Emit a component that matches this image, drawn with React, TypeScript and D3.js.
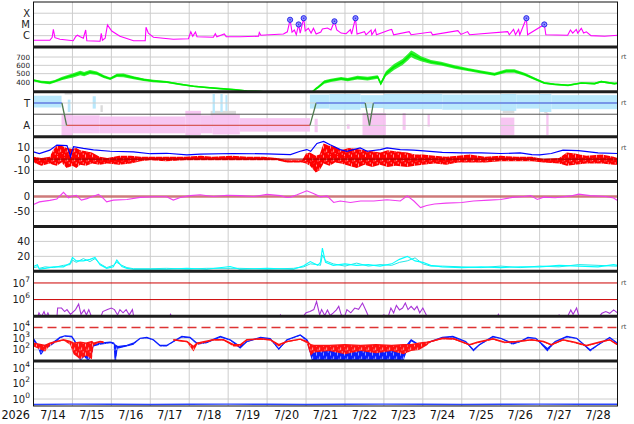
import React from 'react';
import * as d3 from 'd3';

// ---- layout ----
const W = 634;
const H = 424;
const L = 33.5;
const R = 617.5;
const TOP = 2;
const BOT = 406;
const PH = (BOT - TOP) / 9;
const START = new Date(2026, 6, 14);
const at = (d: number) => d3.timeMinute.offset(START, Math.round(d * 1440));

const dayLabels = ['7/14', '7/15', '7/16', '7/17', '7/18', '7/19', '7/20', '7/21', '7/22', '7/23', '7/24', '7/25', '7/26', '7/27', '7/28'];
const yearLabel = '2026';

// ---- data (day offset from 7/14 00:00) ----
const xrayFlux: [number, number][] = [
  [0, 3.9e-7], [0.42, 3.9e-7], [0.48, 7.2e-7], [0.51, 3.6e-6], [0.55, 6.6e-7], [0.68, 4.8e-7], [1.02, 3.5e-7],
  [1.09, 8.9e-7], [1.13, 1.1e-6], [1.2, 8.1e-7], [1.28, 5.9e-7], [1.34, 3.2e-6], [1.37, 3.5e-7], [1.71, 3.2e-7],
  [1.74, 1.6e-6], [1.77, 3.9e-7], [1.84, 5.9e-7], [1.9, 8.9e-6], [2.01, 2.6e-6], [2.22, 8.9e-7], [2.57, 3.5e-7],
  [2.87, 3.5e-7], [2.89, 5.6e-6], [2.95, 1.7e-6], [3.08, 7.2e-7], [3.59, 4.8e-7], [3.98, 5.3e-7], [4.04, 2.2e-6],
  [4.09, 8.9e-7], [4.16, 2.1e-6], [4.2, 8.1e-7], [4.62, 7.2e-7], [4.67, 1.5e-6], [4.71, 8.1e-7], [4.9, 1.4e-6],
  [4.95, 8.1e-7], [5.31, 8.1e-7], [5.78, 8.9e-7], [5.8, 1.9e-6], [5.84, 1.1e-6], [6.42, 1.4e-6], [6.52, 2.2e-6],
  [6.59, 2.6e-5], [6.64, 2.1e-6], [6.7, 3.2e-6], [6.75, 1.2e-6], [6.81, 1.0e-5], [6.85, 1.7e-6], [6.94, 3.6e-5],
  [6.98, 2.6e-6], [7.06, 4.5e-6], [7.13, 1.7e-6], [7.19, 4.5e-6], [7.26, 1.4e-6], [7.38, 2.1e-6], [7.42, 3.9e-6],
  [7.55, 4.8e-6], [7.64, 3.2e-6], [7.73, 1.9e-5], [7.79, 3.2e-6], [7.9, 1.7e-6], [8.03, 1.5e-6], [8.14, 3.5e-6],
  [8.17, 1.4e-6], [8.27, 3.6e-5], [8.31, 1.4e-6], [8.5, 2.3e-6], [8.54, 1.2e-6], [8.67, 3.2e-6], [8.69, 1.2e-6],
  [8.78, 3.6e-6], [8.81, 1.2e-6], [9.14, 3.2e-6], [9.2, 3.6e-6], [9.25, 1.2e-6], [9.65, 2.3e-6], [9.7, 1.2e-6],
  [10.21, 2.1e-6], [10.25, 1.2e-6], [10.9, 2.8e-6], [10.98, 1.3e-6], [11.15, 2.3e-6], [11.2, 1.2e-6], [12.18, 2.3e-6],
  [12.22, 1.2e-6], [12.33, 3.6e-6], [12.38, 1.2e-6], [12.46, 3.6e-6], [12.49, 1.2e-6], [12.66, 3.6e-5], [12.69, 1.2e-6],
  [13.12, 1.0e-5], [13.16, 1.2e-6], [13.72, 1.1e-6], [13.79, 3.2e-6], [13.85, 1.7e-6], [13.94, 3.6e-6], [13.98, 1.7e-6],
  [14.07, 4.5e-6], [14.13, 1.7e-6], [14.2, 2.2e-6], [14.32, 1.0e-6], [14.67, 9.0e-7], [15, 1.1e-6],
];
const flares: [number, number][] = [
  [6.59, 2.6e-5], [6.81, 1.0e-5], [6.94, 3.6e-5], [7.73, 1.9e-5], [8.27, 3.6e-5], [12.66, 3.6e-5], [13.12, 1.0e-5],
];

// [day, km/s, spread]
const windSpeed: [number, number, number][] = [
  [0, 420, 12], [0.2, 400, 15], [0.42, 390, 18], [0.55, 410, 15], [0.72, 440, 20], [0.9, 465, 22], [1.02, 480, 25],
  [1.2, 508, 28], [1.3, 495, 25], [1.45, 520, 25], [1.63, 505, 22], [1.8, 467, 18], [1.97, 440, 15], [2.14, 480, 20],
  [2.31, 480, 22], [2.57, 452, 18], [2.83, 428, 15], [3.08, 412, 14], [3.42, 400, 12], [3.77, 372, 10], [4.11, 348, 10],
  [4.45, 333, 8], [4.8, 320, 8], [5.14, 308, 8], [5.48, 292, 8], [5.83, 285, 8], [6.2, 270, 8], [6.6, 262, 8],
  [7.0, 260, 8], [7.15, 275, 10], [7.26, 320, 15], [7.3, 333, 15], [7.47, 400, 20], [7.64, 420, 20], [7.9, 440, 20],
  [8.07, 428, 20], [8.32, 452, 22], [8.58, 440, 22], [8.84, 460, 22], [8.92, 380, 20], [9.05, 500, 30], [9.26, 580, 35],
  [9.48, 640, 35], [9.62, 700, 40], [9.7, 740, 40], [9.78, 720, 40], [9.95, 680, 30], [10.21, 640, 25], [10.47, 620, 22],
  [10.82, 580, 20], [11.15, 549, 18], [11.5, 520, 18], [11.84, 492, 18], [12.14, 532, 20], [12.35, 532, 20],
  [12.61, 492, 18], [12.87, 440, 15], [13.12, 388, 12], [13.38, 372, 10], [13.73, 360, 10], [14.07, 388, 10],
  [14.41, 380, 10], [14.58, 404, 10], [14.92, 380, 10], [15, 385, 10],
];

// sector: 1 = toward (T), -1 = away (A)
const sector: [number, number][] = [
  [0, 1], [0.73, 1], [0.85, -1], [7.1, -1], [7.26, 1], [8.52, 1], [8.63, -1], [8.73, 1], [15, 1],
];
// phi scatter envelopes: [from, to, low, high]
const phiToward: [number, number, number, number][] = [
  [0, 0.72, 0.6, 1.65], [0.88, 0.95, 0.2, 1.3], [1.52, 1.6, 0.5, 1.6], [4.6, 4.66, 0.1, 1.8], [4.8, 4.86, 0.2, 1.8],
  [4.93, 4.98, 0.3, 1.7],
  [7.1, 7.6, 0.5, 1.75], [7.6, 8.4, 0.4, 1.8], [8.4, 9.0, 0.55, 1.7], [9.0, 10.5, 0.45, 1.8],
  [10.5, 12.0, 0.4, 1.75], [12.0, 12.4, 0.3, 1.8], [12.4, 13.0, 0.5, 1.75], [13.0, 13.3, 0.2, 1.8],
  [13.3, 15, 0.45, 1.7],
];
const phiAway: [number, number, number, number][] = [
  [0.72, 1.0, -2.0, -0.05], [1.0, 1.7, -1.7, -0.1], [1.7, 3.9, -1.7, -0.2], [3.9, 4.3, -1.85, 0.3],
  [4.3, 4.6, -1.7, -0.1], [4.6, 5.3, -1.8, 0.0], [5.3, 7.1, -1.55, -0.35], [7.22, 7.3, -1.6, -0.4],
  [8.05, 8.12, -1.3, -0.9], [8.45, 9.05, -1.85, 0.1], [9.48, 9.56, -1.4, 0.1], [10.12, 10.18, -1.1, 0.0],
  [12.0, 12.35, -1.85, -0.3], [13.17, 13.23, -1.85, 0.1],
];
const phiOther: [number, number, number, number][] = [
  [0.8, 1.0, 1.75, 2.0], [1.72, 1.78, 0.2, 0.8], [4.55, 5.2, -1.2, 0.3], [12.05, 12.35, 0.1, 1.2], [13.12, 13.2, 0.1, 0.6],
];

const bt: [number, number][] = [
  [0, 6.5], [0.15, 5], [0.42, 8], [0.6, 12.5], [0.86, 12], [0.92, 6], [0.95, 2], [0.98, 6], [1.03, 11], [1.28, 9.5],
  [1.54, 8.3], [1.97, 7], [2.57, 6.5], [3.0, 4.8], [3.42, 5.2], [3.94, 3.7], [4.28, 4.5], [5.13, 5], [6.0, 4.7],
  [6.6, 4], [6.85, 7], [7.02, 8.5], [7.12, 7], [7.28, 14], [7.45, 15.8], [7.62, 12.8], [7.88, 8.5], [8.05, 7],
  [8.39, 10], [8.57, 7], [8.91, 8.5], [9.08, 10], [9.42, 8.5], [9.76, 8], [9.94, 7.5], [10.5, 6], [11.0, 5.5],
  [11.5, 5.5], [12.0, 5], [12.5, 5.5], [12.8, 4], [13.0, 3.8], [13.3, 5], [13.6, 8], [14.0, 7.5], [14.5, 5.5], [15, 5],
];
// bz envelope: [day, high, low]
const bz: [number, number, number][] = [
  [0, 2, -3], [0.2, 1, -6], [0.42, 2, -4], [0.5, 8, -5], [0.6, 12, -6], [0.72, 12, -3], [0.85, 10, -8], [1.0, 9, -6],
  [1.1, 10, -8], [1.2, 8, -5], [1.35, 7, -6], [1.5, 6, -4], [1.7, 2, -5], [1.9, 1, -4], [2.2, 3, -5], [2.5, 3, -4],
  [2.75, 2, -2], [3.0, 2, -1], [3.4, 2, -2], [3.9, 2, -1], [4.3, 3, -1], [4.6, 2, -1], [5.1, 3, -1], [5.5, 2, -1],
  [5.9, 2, -1], [6.25, 1, -1], [6.5, -1, -3], [6.9, -1, -3], [7.0, 5, -4], [7.1, 6, -6], [7.25, 3, -12], [7.35, 4, -10],
  [7.45, 14, -4], [7.6, 12, -6], [7.75, 11, -3], [7.9, 8, -4], [8.1, 10, -6], [8.3, 9, -8], [8.5, 8, -5], [8.7, 7, -7],
  [8.9, 6, -5], [9.1, 8, -7], [9.3, 7, -6], [9.6, 6, -7], [9.8, 4, -6], [10.0, 4, -5], [10.3, 3, -4], [10.6, 2, -5],
  [10.9, 3, -3], [11.2, 4, -3], [11.6, 2, -3], [12.0, 3, -2], [12.4, 2, -2], [12.8, 2, -2], [13.1, 0, -3],
  [13.5, 1, -4], [13.7, 6, -6], [13.9, 5, -5], [14.2, 3, -4], [14.6, 4, -4], [14.9, 2, -5], [15, 1, -5],
];

const dst: [number, number][] = [
  [0, -27], [0.15, -18], [0.42, -13], [0.6, -8], [0.77, 14], [0.9, -4], [0.98, 1], [1.1, 4], [1.23, -12], [1.37, -7],
  [1.5, -1], [1.67, 7], [1.8, -7], [1.88, -18], [2.05, -12], [2.4, -10], [2.74, -3], [3.08, -1], [3.42, -1], [3.59, -12],
  [3.77, -3], [4.02, 3], [4.28, 6], [4.62, 0], [4.97, 4], [5.31, 3], [5.65, 0], [6.0, 7], [6.34, 3], [6.5, -3],
  [6.6, -2], [6.77, 6], [7.02, 19], [7.19, 10], [7.37, -1], [7.54, 2], [7.71, -20], [7.88, -15], [8.14, -20],
  [8.4, -15], [8.74, -15], [9.08, -11], [9.42, -15], [9.6, 2], [9.77, -15], [9.94, -37], [10.1, -30], [10.3, -25],
  [10.6, -22], [11.0, -20], [11.3, -15], [11.7, -12], [12.0, -10], [12.3, -3], [12.6, 0], [12.77, 3], [12.94, -10],
  [13.1, -2], [13.4, -4], [13.8, 2], [14.0, 8], [14.3, 3], [14.7, 0], [14.9, -5], [15, -13],
];

// two cyan traces: [day, a, b]
const cyan: [number, number, number][] = [
  [0, 6.5, 5], [0.1, 8.7, 6], [0.15, 3, 4], [0.3, 4, 6], [0.51, 6, 5], [0.77, 6, 8], [0.94, 11, 9], [1.0, 18.6, 15],
  [1.1, 14, 12], [1.28, 14, 17], [1.45, 16, 13], [1.58, 18.6, 17], [1.71, 8.7, 10], [1.88, 4, 5], [2.05, 6, 8],
  [2.14, 15, 12], [2.27, 6.5, 8], [2.4, 4, 5], [2.57, 2.7, 3.5], [3.0, 2.7, 3.5], [3.42, 2.7, 4], [3.94, 4, 3],
  [4.45, 2.7, 4], [5.05, 6.5, 4], [5.3, 2.7, 4], [6.0, 4, 3], [6.68, 2.7, 4], [6.94, 7.5, 6], [7.11, 13, 10],
  [7.3, 8, 9], [7.37, 12, 8], [7.42, 31, 22], [7.5, 12, 14], [7.7, 8, 10], [8.0, 10, 7], [8.3, 8, 11], [8.6, 9, 7],
  [8.9, 7, 9], [9.2, 10, 8], [9.4, 16, 12], [9.6, 20, 14], [9.8, 14, 18], [10.0, 12, 10], [10.2, 8, 7], [10.5, 6, 7],
  [11.0, 5, 6], [11.5, 6, 5], [12.0, 5, 7], [12.5, 6, 5], [13.0, 6, 7], [13.5, 8, 6], [14.0, 7, 9], [14.5, 6, 8],
  [14.9, 9, 7], [15, 8, 7],
];

const electrons: [number, number][] = [
  [0, 8e4], [0.1, 8e4], [0.14, 1.6e5], [0.2, 9e4], [0.27, 1.9e5], [0.32, 9e4], [0.37, 1.6e5], [0.42, 8e4], [0.6, 8e4],
  [0.62, 3.1e5], [0.72, 3.1e5], [0.8, 1.9e5], [0.86, 2.5e5], [0.95, 1.3e5], [1.08, 2.5e5], [1.16, 5.4e5], [1.22, 1.3e5],
  [1.3, 2.4e5], [1.36, 1.2e5], [1.42, 2.5e5], [1.5, 8e4], [1.72, 8e4], [1.78, 1.9e5], [1.9, 2.5e5], [2.0, 3.1e5],
  [2.08, 2.5e5], [2.16, 1.2e5], [2.22, 2.5e5], [2.3, 1.6e5], [2.38, 2.5e5], [2.46, 1.2e5], [2.54, 2.5e5], [2.58, 8e4],
  [3.48, 8e4], [3.52, 1.3e5], [3.56, 8e4], [6.3, 8e4], [6.34, 1.2e5], [6.38, 8e4], [6.9, 8e4], [7.0, 1.6e5],
  [7.1, 1.9e5], [7.2, 2.5e5], [7.27, 7.7e5], [7.35, 1.2e5], [7.4, 2.5e5], [7.48, 1.1e5], [7.55, 2.4e5], [7.62, 1.1e5],
  [7.7, 1.6e5], [7.78, 2.4e5], [7.84, 3.9e5], [7.9, 1.3e5], [7.98, 8e4], [8.05, 2.5e5], [8.15, 1.6e5], [8.25, 3.1e5],
  [8.35, 2.6e5], [8.45, 6.2e5], [8.55, 1.9e5], [8.62, 8e4], [8.9, 9e4], [9.0, 1.2e5], [9.1, 8e4], [9.18, 3.1e5],
  [9.25, 1.6e5], [9.32, 4.5e5], [9.4, 2.4e5], [9.48, 3.1e5], [9.55, 6.2e5], [9.62, 2.5e5], [9.7, 3.9e5], [9.78, 2.4e5],
  [9.85, 3.9e5], [9.92, 1.6e5], [10.0, 3.1e5], [10.08, 1.3e5], [10.15, 8e4], [11.9, 8e4], [11.94, 1.3e5], [11.98, 8e4],
  [13.45, 8e4], [13.5, 1.2e5], [13.55, 8e4], [13.7, 8e4], [13.8, 2.4e5], [13.86, 1.3e5], [13.95, 3.1e5], [14.02, 8e4],
  [14.5, 8e4], [14.6, 1.5e5], [14.7, 1.9e5], [14.8, 1.5e5], [14.9, 2.4e5], [15, 1.6e5],
];

// proton-ish fluxes: [day, high, low]
const fluxBlue: [number, number, number][] = [
  [0, 980, 560], [0.1, 290, 200], [0.18, 200, 36], [0.21, 150, 40], [0.3, 250, 125], [0.42, 290, 200], [0.6, 800, 560],
  [0.68, 1300, 1100], [0.81, 1800, 1600], [0.98, 1600, 1300], [1.07, 560, 400], [1.13, 100, 30], [1.2, 250, 10],
  [1.3, 290, 25], [1.4, 250, 10], [1.5, 200, 30], [1.54, 290, 200], [1.71, 400, 290], [1.97, 490, 400], [2.06, 400, 300],
  [2.08, 300, 10], [2.12, 250, 10], [2.16, 200, 125], [2.4, 250, 200], [2.57, 400, 290], [2.74, 1100, 980], [2.91, 1300, 1100],
  [3.08, 800, 700], [3.25, 250, 200], [3.42, 250, 200], [3.59, 560, 490], [3.81, 1600, 1300], [4.02, 1300, 1100],
  [4.2, 400, 290], [4.45, 490, 400], [4.8, 1600, 1300], [5.05, 800, 700], [5.31, 200, 125], [5.48, 560, 490],
  [5.83, 1300, 1100], [6.08, 1000, 900], [6.3, 125, 100], [6.51, 800, 700], [6.85, 2200, 1800], [7.02, 800, 560],
  [7.15, 120, 10], [7.2, 150, 10], [7.6, 140, 10], [8.0, 150, 10], [8.5, 140, 10], [9.0, 150, 10], [9.5, 140, 10],
  [9.6, 290, 100], [9.7, 800, 560], [9.9, 290, 250], [10.05, 290, 250], [10.2, 560, 490], [10.5, 1300, 1100],
  [10.77, 1600, 1300], [11.1, 560, 490], [11.3, 100, 72], [11.45, 290, 250], [11.8, 1600, 1300], [12.0, 1100, 980],
  [12.3, 400, 290], [12.5, 560, 490], [12.7, 1300, 1100], [12.9, 1100, 980], [13.2, 125, 72], [13.4, 560, 490],
  [13.7, 1600, 1300], [13.95, 1100, 980], [14.3, 100, 72], [14.5, 290, 250], [14.8, 1300, 1100], [15, 400, 290],
];
const fluxRed: ([number, number, number] | null)[] = [
  [0, 400, 200], [0.2, 290, 100], [0.3, 250, 72], [0.42, 400, 250], [0.51, 490, 400], [0.77, 800, 700],
  [0.94, 560, 290], [1.03, 400, 40], [1.2, 490, 15], [1.35, 400, 30], [1.5, 560, 15], [1.54, 400, 250],
  [1.71, 560, 490], [1.8, 500, 400], null,
  [3.59, 800, 700], [3.94, 560, 490], [4.11, 200, 72], [4.2, 400, 290], [4.62, 800, 700], [4.88, 800, 700],
  [5.14, 290, 200], [5.31, 290, 200], [5.48, 800, 700], [5.83, 980, 800], [6.08, 800, 700], [6.3, 290, 200],
  [6.51, 560, 490], [6.85, 900, 800], [7.02, 560, 400], [7.12, 290, 30], [7.2, 250, 60], [7.6, 250, 80],
  [8.0, 290, 40], [8.4, 250, 80], [8.8, 290, 50], [9.2, 250, 80], [9.5, 290, 40], [9.7, 290, 80], [9.9, 400, 100],
  [10.1, 490, 250], [10.2, 560, 490], [10.5, 1100, 900], [10.8, 980, 800], [11.2, 290, 250], [11.4, 490, 400],
  [11.8, 980, 800], [12.1, 490, 400], [12.4, 560, 490], [12.8, 800, 700], [13.1, 560, 490], [13.3, 290, 250],
  [13.6, 800, 700], [13.9, 490, 400], [14.2, 250, 200], [14.6, 560, 490], [14.8, 800, 700], [15, 290, 250],
];

const neutral: [number, number][] = [
  [0, 0.19], [1, 0.21], [2, 0.2], [3, 0.19], [4, 0.2], [5, 0.21], [6, 0.2], [7, 0.19], [8, 0.2], [9, 0.21],
  [10, 0.2], [11, 0.19], [12, 0.2], [13, 0.21], [14, 0.2], [15, 0.2],
];

// ---- scales ----
const panelTop = (i: number) => TOP + i * PH;
const x = d3.scaleTime().domain([START, at(15)]).range([L, R]);
const yXray = d3.scaleLog().domain([1e-7, 1e-3]).range([panelTop(1), panelTop(0)]);
const ySpeed = d3.scaleLinear().domain([282, 822]).range([panelTop(2), panelTop(1)]);
const yPhi = d3.scaleLinear().domain([-2, 2]).range([panelTop(3), panelTop(2)]);
const yB = d3.scaleLinear().domain([-20, 20]).range([panelTop(4), panelTop(3)]);
const yDst = d3.scaleLinear().domain([-100, 50]).range([panelTop(5), panelTop(4)]);
const yCyan = d3.scaleLinear().domain([0, 60]).range([panelTop(6), panelTop(5)]);
const yE = d3.scaleLog().domain([1e5, 5e7]).range([panelTop(7), panelTop(6)]);
const yP = d3.scaleLog().domain([10, 1e5]).range([panelTop(8), panelTop(7)]);
const yN = d3.scaleLog().domain([0.12, 1e5]).range([panelTop(9), panelTop(8)]);

const FONT = 'DejaVu Sans, Verdana, sans-serif';
const AXFONT = '"Liberation Sans Narrow", "DejaVu Sans Condensed", "Arial Narrow", sans-serif';

type Tick = { y: number; label?: string; exp?: string; color?: string; dash?: string; width?: number; size?: number };

const gridTicks: Tick[] = [
  ...[['X', 1e-4], ['M', 1e-5], ['C', 1e-6]].map(([l, v]) => ({ y: yXray(v as number), label: l as string })),
  ...[400, 500, 600, 700].map(v => ({ y: ySpeed(v), label: String(v), size: 7.2 })),
  { y: yPhi(1), label: 'T' }, { y: yPhi(-1), label: 'A' }, { y: yPhi(0), color: '#555' },
  { y: yB(10), label: '10' }, { y: yB(0), label: '0' }, { y: yB(-10), label: '-10' },
  { y: yDst(-50), label: '-50' },
  { y: yCyan(20), label: '20' }, { y: yCyan(40), label: '40' },
  { y: yE(1e6), label: '10', exp: '6', color: '#cc0000' }, { y: yE(1e7), label: '10', exp: '7', color: '#cc0000' },
  { y: yP(1e2), label: '10', exp: '2' }, { y: yP(1e3), label: '10', exp: '3' },
  { y: yP(1e4), label: '10', exp: '4', color: '#dd3333', dash: '9 5', width: 1.4 },
  { y: yN(1), label: '10', exp: '0' }, { y: yN(1e2), label: '10', exp: '2' }, { y: yN(1e4), label: '10', exp: '4' },
];
const rtMarks = [ySpeed(700), yPhi(1), yB(10), yE(1e7), yP(1e4)];

export default function App() {
  const px = (d: number) => x(at(d));

  const xrayLine = d3.line<[number, number]>().x(d => px(d[0])).y(d => yXray(d[1]));
  const speedArea = d3.area<[number, number, number]>().x(d => px(d[0]))
    .y0(d => ySpeed(d[1] - d[2])).y1(d => ySpeed(d[1] + d[2]));
  const speedLine = d3.line<[number, number, number]>().x(d => px(d[0])).y(d => ySpeed(d[1]));
  const btLine = d3.line<[number, number]>().x(d => px(d[0])).y(d => yB(d[1]));
  const bzArea = d3.area<[number, number, number]>().x(d => px(d[0])).y0(d => yB(d[2])).y1(d => yB(d[1]));
  const bzMid = d3.line<[number, number, number]>().x(d => px(d[0])).y(d => yB((d[1] + d[2]) / 2));
  const dstLine = d3.line<[number, number]>().x(d => px(d[0])).y(d => yDst(d[1]));
  const cyanA = d3.line<[number, number, number]>().x(d => px(d[0])).y(d => yCyan(d[1]));
  const cyanB = d3.line<[number, number, number]>().x(d => px(d[0])).y(d => yCyan(d[2]));
  const eLine = d3.line<[number, number]>().x(d => px(d[0])).y(d => yE(d[1]));
  const fluxArea = d3.area<[number, number, number] | null>()
    .defined(d => d !== null)
    .x(d => px(d![0])).y0(d => yP(d![2])).y1(d => yP(d![1]));
  const fluxTop = d3.line<[number, number, number] | null>()
    .defined(d => d !== null)
    .x(d => px(d![0])).y(d => yP(d![1]));
  const nLine = d3.line<[number, number]>().x(d => px(d[0])).y(d => yN(d[1]));

  const clip = (i: number) => `url(#clip${i})`;

  const cloud = (rows: [number, number, number, number][], fill: string, key: string) =>
    rows.map((r, i) => (
      <rect key={key + i} x={px(r[0])} width={px(r[1]) - px(r[0])} y={yPhi(r[3])} height={yPhi(r[2]) - yPhi(r[3])}
        fill={fill} />
    ));

  const sectorSegs = sector.slice(1).map((p, i) => {
    const q = sector[i];
    const color = q[1] !== p[1] ? '#4f7a4f' : p[1] > 0 ? '#5f7fe8' : '#d85a5a';
    return <line key={'sec' + i} x1={px(q[0])} y1={yPhi(q[1])} x2={px(p[0])} y2={yPhi(p[1])} stroke={color} strokeWidth={1.3} />;
  });

  return (
    <div style={{ position: 'absolute', left: 0, top: 0 }}>
      <svg width={W} height={H} style={{ display: 'block', background: '#fff' }}>
        <defs>
          {d3.range(9).map(i => (
            <clipPath key={i} id={`clip${i}`}>
              <rect x={L} y={panelTop(i)} width={R - L} height={PH} />
            </clipPath>
          ))}
          {[['red', '#ff0000'], ['blue', '#0a1eff'], ['red2', '#ff1010']].map(([k, c]) => (
            <pattern key={k} id={`noise-${k}`} width={7} height={9} patternUnits="userSpaceOnUse">
              <rect width={7} height={9} fill={c} />
              <rect x={1} y={1.5} width={0.9} height={3} fill="#fff" opacity={0.65} />
              <rect x={4.2} y={5.5} width={0.9} height={2.6} fill="#fff" opacity={0.65} />
              <rect x={5.8} y={0} width={0.8} height={2} fill="#fff" opacity={0.55} />
              <rect x={2.6} y={6.8} width={0.7} height={2} fill="#fff" opacity={0.5} />
            </pattern>
          ))}
        </defs>

        {/* vertical day grid */}
        {d3.range(1, 15).map(d => (
          <line key={'v' + d} x1={px(d)} x2={px(d)} y1={TOP} y2={BOT} stroke="#cdcdcd" strokeWidth={1} />
        ))}

        {/* phi scatter clouds (below grid lines) */}
        <g clipPath={clip(2)} opacity={0.9}>
          {cloud(phiOther, '#d6d6d6', 'O')}
          {cloud(phiAway, '#f7c0f1', 'A')}
          {cloud(phiToward, '#b2e6fc', 'T')}
        </g>

        {/* horizontal grid */}
        {gridTicks.map((t, i) => (
          <line key={'h' + i} x1={L} x2={R} y1={t.y} y2={t.y}
            stroke={t.color || '#cdcdcd'} strokeWidth={t.width || 1} strokeDasharray={t.dash} />
        ))}

        {/* panel 1: x-ray */}
        <g clipPath={clip(0)}>
          <path d={xrayLine(xrayFlux)!} fill="none" stroke="#ff00ff" strokeWidth={1.1} />
          {flares.map((f, i) => (
            <g key={'fl' + i}>
              <circle cx={px(f[0])} cy={yXray(f[1])} r={2.6} fill="#8f8fff" stroke="#2b2bea" strokeWidth={1} />
              <circle cx={px(f[0])} cy={yXray(f[1])} r={0.8} fill="#2b2bea" />
            </g>
          ))}
        </g>

        {/* panel 2: speed */}
        <g clipPath={clip(1)}>
          <path d={speedArea(windSpeed)!} fill="#00ee00" opacity={0.8} />
          <path d={speedLine(windSpeed)!} fill="none" stroke="#00ee00" strokeWidth={1.6} />
        </g>

        {/* panel 3: sector */}
        <g clipPath={clip(2)}>{sectorSegs}</g>

        {/* panel 4: Bt / Bz */}
        <g clipPath={clip(3)}>
          <path d={bzArea(bz)!} fill="url(#noise-red)" />
          <path d={bzMid(bz)!} fill="none" stroke="#ff0000" strokeWidth={1.3} />
          <path d={btLine(bt)!} fill="none" stroke="#0000ff" strokeWidth={1.2} />
          <line x1={L} x2={R} y1={yB(0)} y2={yB(0)} stroke="#a00000" strokeWidth={1} />
        </g>

        {/* panel 5 */}
        <g clipPath={clip(4)}>
          <line x1={L} x2={R} y1={yDst(0)} y2={yDst(0)} stroke="#c25a5a" strokeWidth={2.6} opacity={0.8} />
          <path d={dstLine(dst)!} fill="none" stroke="#f03cf0" strokeWidth={1.1} />
        </g>

        {/* panel 6 */}
        <g clipPath={clip(5)}>
          <path d={cyanB(cyan)!} fill="none" stroke="#22e6e6" strokeWidth={1} />
          <path d={cyanA(cyan)!} fill="none" stroke="#00ffff" strokeWidth={1.1} />
        </g>

        {/* panel 7 */}
        <g clipPath={clip(6)}>
          <path d={eLine(electrons)!} fill="none" stroke="#a733d6" strokeWidth={1.1} />
        </g>

        {/* panel 8 */}
        <g clipPath={clip(7)}>
          <path d={fluxArea(fluxBlue)!} fill="url(#noise-blue)" />
          <path d={fluxTop(fluxBlue)!} fill="none" stroke="#0a1eff" strokeWidth={1.2} />
          <path d={fluxArea(fluxRed)!} fill="url(#noise-red2)" />
          <path d={fluxTop(fluxRed)!} fill="none" stroke="#ff1010" strokeWidth={1.4} />
        </g>

        {/* panel 9 */}
        <g clipPath={clip(8)}>
          <path d={nLine(neutral)!} fill="none" stroke="#2a46ff" strokeWidth={1.4} />
        </g>

        {/* frames */}
        <rect x={L} y={TOP} width={R - L} height={BOT - TOP} fill="none" stroke="#111" strokeWidth={1} />
        {d3.range(1, 9).map(i => (
          <line key={'sep' + i} x1={L} x2={R} y1={panelTop(i)} y2={panelTop(i)} stroke="#1e1e1e" strokeWidth={3} />
        ))}

        {/* left labels */}
        {gridTicks.filter(t => t.label).map((t, i) => (
          <text key={'lab' + i} x={30} y={t.y + (t.size ? 2.7 : 3.6)} textAnchor="end" fontFamily={FONT}
            fontSize={t.size || 10} fill="#222">
            {t.label}
            {t.exp && <tspan dy={-5} fontSize={7.5}>{t.exp}</tspan>}
          </text>
        ))}
        <text x={30} y={yDst(0) + 3.6} textAnchor="end" fontFamily={FONT} fontSize={10} fill="#222">0</text>

        {/* right "rt" marks */}
        {rtMarks.map((y, i) => (
          <text key={'rt' + i} x={621} y={y + 2} fontFamily={FONT} fontSize={6.5} fill="#444">rt</text>
        ))}

        {/* time axis */}
        <text x={30} y={419} textAnchor="end" fontFamily={AXFONT} fontSize={12.5} fill="#111">{yearLabel}</text>
        {dayLabels.map((lab, i) => (
          <text key={lab} x={px(i + 0.5)} y={419} textAnchor="middle" fontFamily={AXFONT} fontSize={12.5} fill="#111">{lab}</text>
        ))}
      </svg>
    </div>
  );
}
